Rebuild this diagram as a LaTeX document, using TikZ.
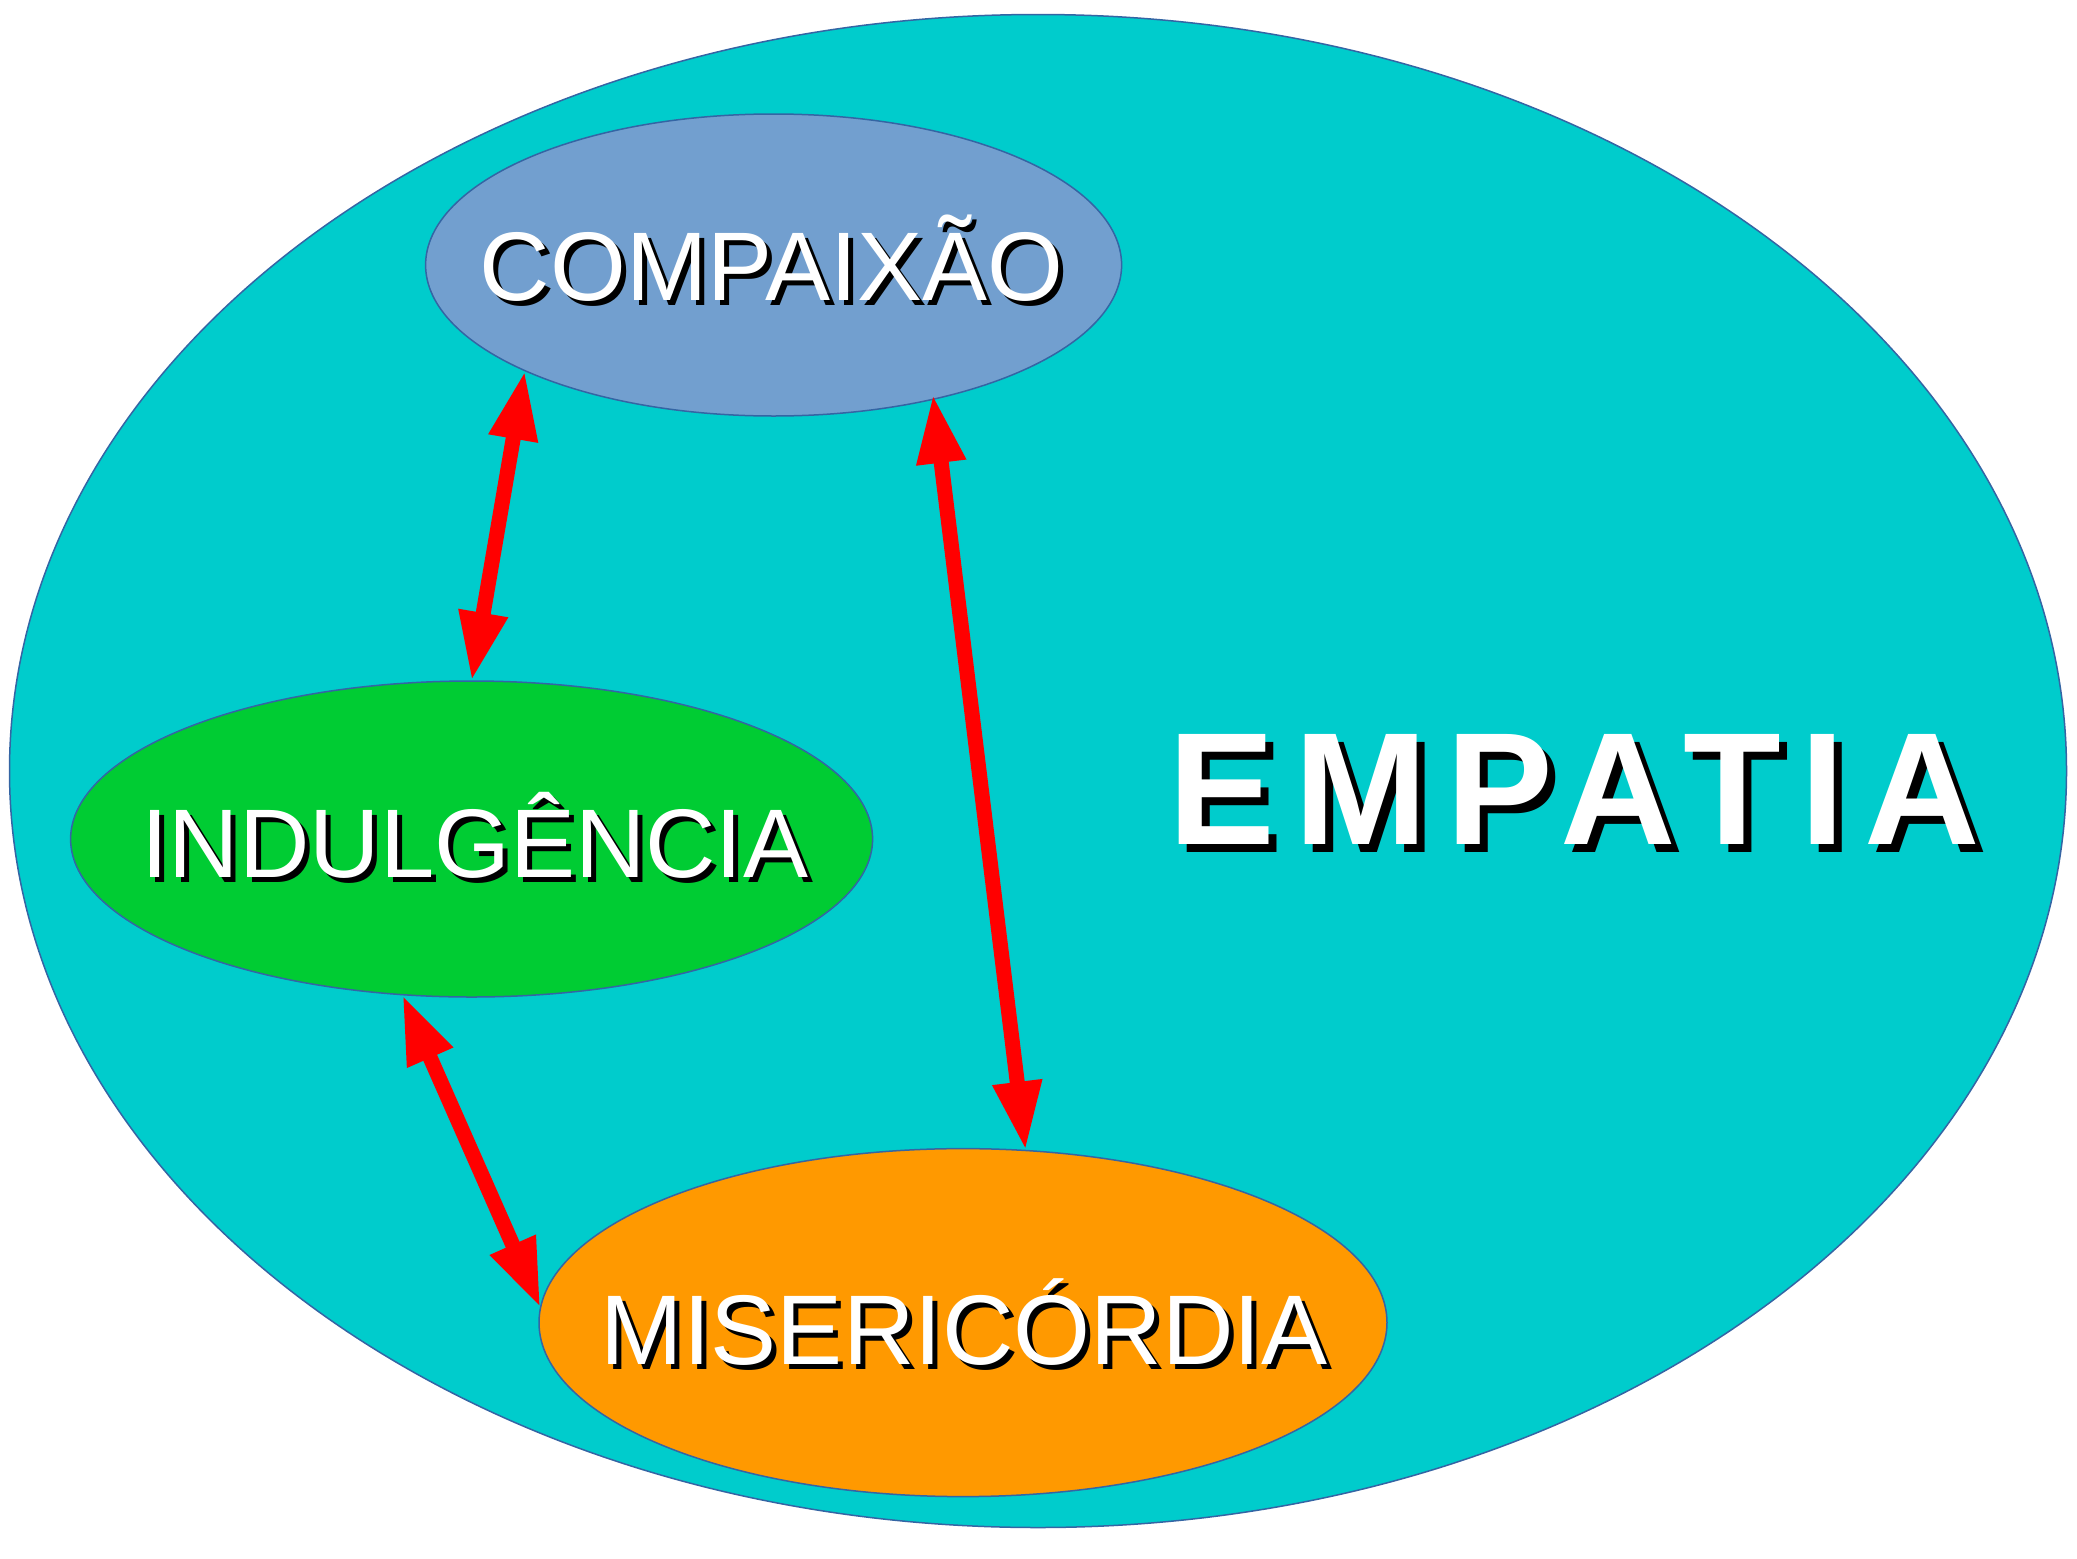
\documentclass[tikz,border=0pt]{standalone}
\usepackage{fontspec}
\setmainfont{Liberation Sans}
\newfontfamily\empfont[LetterSpace=12]{Liberation Sans}
\usetikzlibrary{arrows.meta,shapes.geometric}
\definecolor{cyanbg}{HTML}{00CCCC}
\definecolor{compblue}{HTML}{729FCF}
\definecolor{indgreen}{HTML}{00CC33}
\definecolor{misorange}{HTML}{FF9900}
\definecolor{edgeblue}{HTML}{3465A4}
\begin{document}
\begin{tikzpicture}[x=1pt,y=-1pt,
  blob/.style={ellipse, draw=edgeblue, line width=1.5pt, inner sep=0pt, outer sep=0pt},
  lab/.style={anchor=base, inner sep=0pt, font=\fontsize{97.5}{110}\selectfont},
  emplab/.style={anchor=base, inner sep=0pt, font=\empfont\bfseries\fontsize{160}{180}\selectfont},
  link/.style={red, line width=15pt, {Triangle[length=69pt,width=46pt]}-{Triangle[length=69pt,width=46pt]}}
]
\fill[white] (0,0) rectangle (2077,1558);
\useasboundingbox (0,0) rectangle (2077,1558);
% ellipses
\node[blob, fill=cyanbg, minimum width=2057pt, minimum height=1513pt] (emp) at (1038,771) {};
\node[blob, fill=compblue, minimum width=696pt, minimum height=302pt] (comp) at (773.6,265) {};
\node[blob, fill=indgreen, minimum width=802pt, minimum height=316pt] (indu) at (471.6,839) {};
\node[blob, fill=misorange, minimum width=848pt, minimum height=348pt] (miser) at (963,1322.6) {};
% labels with shadows
\node[lab, black] (compsh) at (776.6,305) {COMPAIXÃO};
\node[lab, white] (comptxt) at (771.6,300) {COMPAIXÃO};
\node[lab, black] (indush) at (480,882) {INDULGÊNCIA};
\node[lab, white] (indutxt) at (475,877) {INDULGÊNCIA};
\node[lab, black, font=\fontsize{99}{110}\selectfont] (misersh) at (969,1369) {MISERICÓRDIA};
\node[lab, white, font=\fontsize{99}{110}\selectfont] (misertxt) at (964,1364) {MISERICÓRDIA};
\node[emplab, black] (empsh) at (1582,852) {EMPATIA};
\node[emplab, white] (emptxt) at (1574,844) {EMPATIA};
% connectors
\draw[link] (comp.203.75) -- (indu.90);
\draw[link, shorten <=-5pt] (comp.-40.5) -- (miser.70.9);
\draw[link] (indu.246.4) -- (miser.178.3);
\end{tikzpicture}
\end{document}
